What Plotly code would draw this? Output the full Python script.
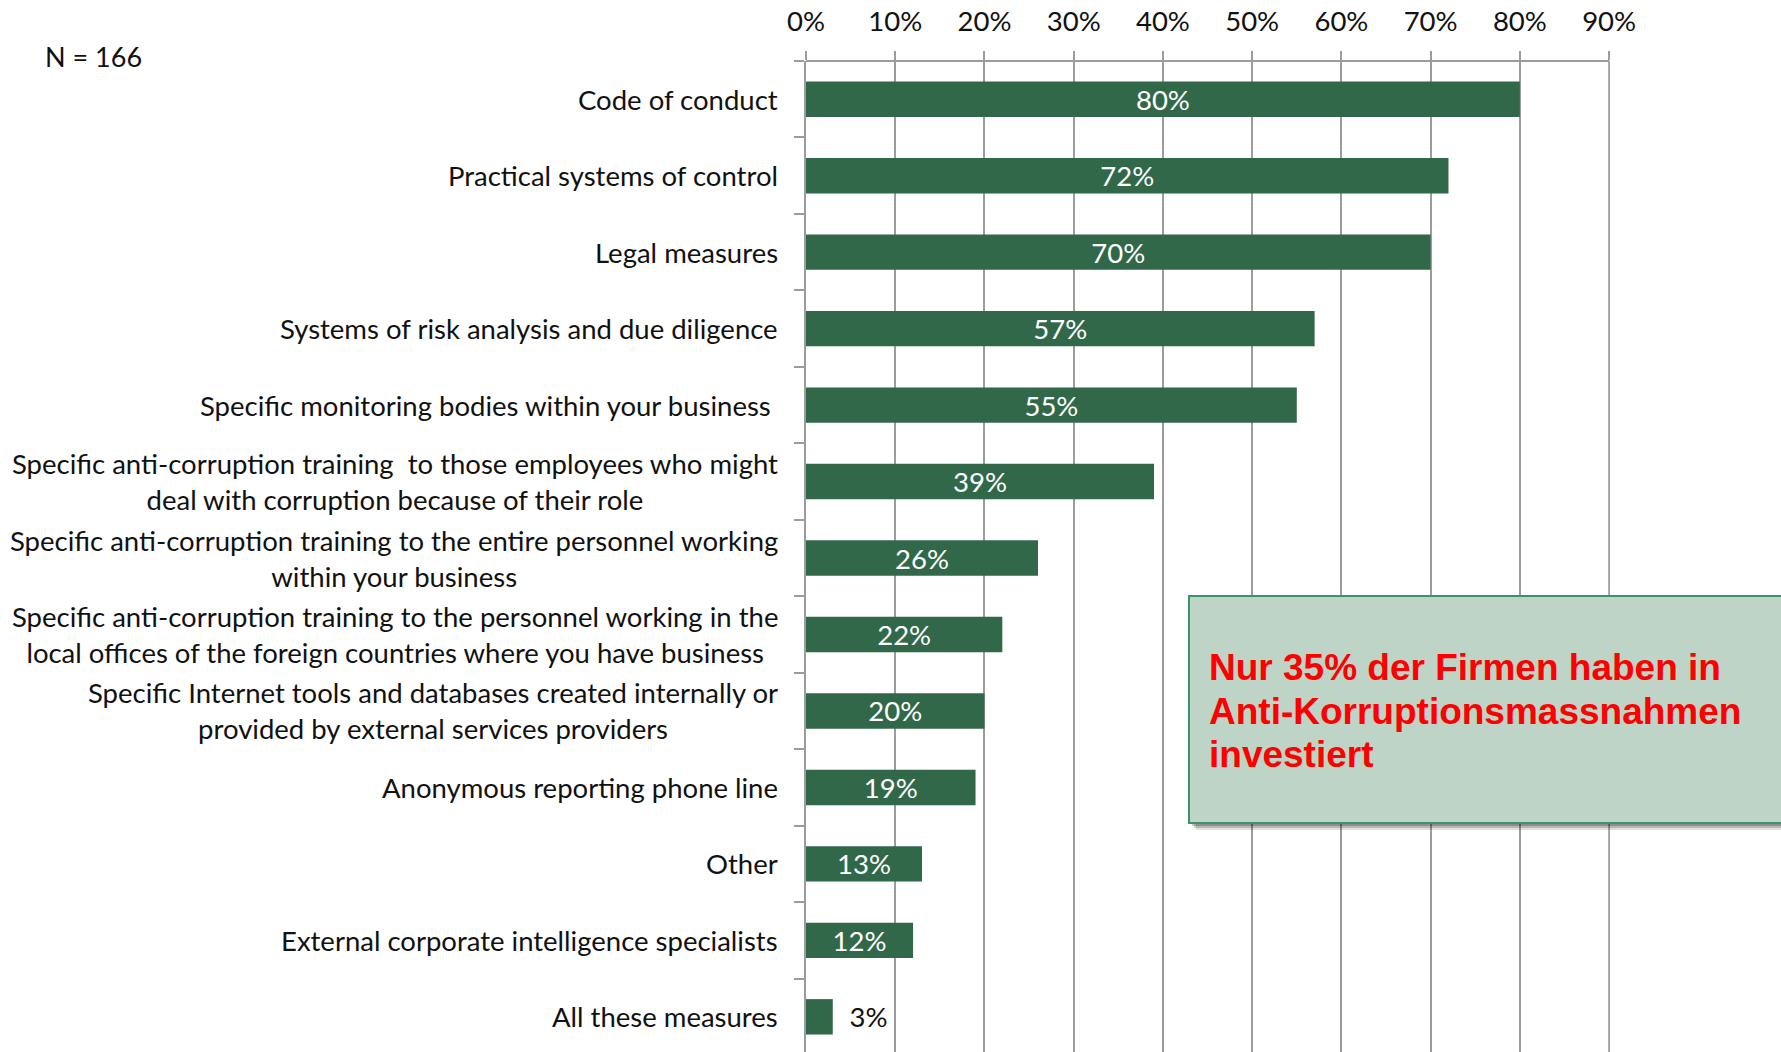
import plotly.graph_objects as go

# Survey: anti-corruption measures adopted by companies (N = 166)
categories = [
    "Code of conduct",
    "Practical systems of control",
    "Legal measures",
    "Systems of risk analysis and due diligence",
    "Specific monitoring bodies within your business\u00a0",
    "Specific anti-corruption training\u00a0 to those employees who might<br>deal with corruption because of their role",
    "Specific anti-corruption training to the entire personnel working<br>within your business",
    "Specific anti-corruption training to the personnel working in the<br>local offices of the foreign countries where you have business",
    "Specific Internet tools and databases created internally or<br>provided by external services providers",
    "Anonymous reporting phone line",
    "Other",
    "External corporate intelligence specialists",
    "All these measures",
]
shares = [80, 72, 70, 57, 55, 39, 26, 22, 20, 19, 13, 12, 3]
x_ticks = [0, 10, 20, 30, 40, 50, 60, 70, 80, 90]
x_tick_text = [f"{t}%" for t in x_ticks]
sample_note = "N = 166"
callout_lines = [
    "Nur 35% der Firmen haben in",
    "Anti-Korruptionsmassnahmen",
    "investiert",
]

W, H = 1781, 1052
X_MAX = 90.1
L, T, B = 806, 61, 0
PX_PER_UNIT = 803 / 90
R = W - L - round(PX_PER_UNIT * X_MAX)
PW, PH = W - L - R, H - T - B

def px_x(p):
    return (p - L) / PW

def px_y(p):
    return (H - B - p) / PH

FONT = "Lato"
FS = 27.5
BAR = "#31684A"
GRID = "#9c9c9c"
GW = 1.8

# Narrow bars get their label outside, after a small gap
positions = ["inside" if v >= 5 else "outside" for v in shares]
labels = [f"{v}%" if p == "inside" else f"\u2002{v}%" for v, p in zip(shares, positions)]

fig = go.Figure(
    go.Bar(
        orientation="h",
        y=list(range(len(categories))),
        x=shares,
        text=labels,
        textposition=positions,
        insidetextanchor="middle",
        insidetextfont=dict(family=FONT, size=FS, color="white"),
        outsidetextfont=dict(family=FONT, size=FS, color="#111"),
        constraintext="none",
        cliponaxis=False,
        marker=dict(color=BAR, line=dict(width=0)),
        hoverinfo="skip",
    )
)

n = len(categories)
fig.update_layout(
    width=W,
    height=H,
    margin=dict(l=L, r=R, t=T, b=B, autoexpand=False),
    paper_bgcolor="white",
    plot_bgcolor="white",
    showlegend=False,
    bargap=0.537,
    font=dict(family=FONT, size=FS, color="#111"),
    xaxis=dict(
        side="top",
        range=[0, X_MAX],
        tickvals=x_ticks,
        ticktext=x_tick_text,
        showgrid=True,
        gridcolor=GRID,
        gridwidth=GW,
        showline=False,
        ticks="outside",
        ticklen=9,
        tickcolor=GRID,
        tickwidth=GW,
        ticklabelstandoff=9,
        tickfont=dict(family=FONT, size=FS, color="#111"),
        zeroline=False,
        fixedrange=True,
    ),
    yaxis=dict(
        type="linear",
        range=[n - 1 + 0.46, -0.5],
        tickvals=[i - 0.5 for i in range(n + 1)],
        showticklabels=False,
        showgrid=False,
        zeroline=False,
        showline=True,
        linecolor=GRID,
        linewidth=GW,
        ticks="outside",
        ticklen=10,
        tickcolor=GRID,
        tickwidth=GW,
        fixedrange=True,
    ),
)

# Top axis line from 0% to 90% and the closing 90% gridline
fig.add_shape(
    type="line", xref="x", yref="paper", layer="above",
    x0=0, x1=90, y0=1, y1=1,
    line=dict(color=GRID, width=GW),
)
fig.add_shape(
    type="line", xref="x", yref="paper", layer="below",
    x0=90, x1=90, y0=0, y1=1,
    line=dict(color=GRID, width=GW),
)

# Category labels, right-aligned against the axis with centred line wrapping
for i, label in enumerate(categories):
    fig.add_annotation(
        x=0, xref="paper", y=i, yref="y",
        xanchor="right", yanchor="middle", xshift=-26,
        text=label, align="center", showarrow=False,
        font=dict(family=FONT, size=FS, color="#111"),
    )

fig.add_annotation(
    x=px_x(43), xref="paper", y=px_y(56), yref="paper",
    xanchor="left", yanchor="middle",
    text=sample_note, showarrow=False,
    font=dict(family=FONT, size=27, color="#111"),
)

# Callout box with soft shadow
bx0, bx1, by0, by1 = 1189, 1800, 596, 823
for off, alpha in [(7, 0.12), (5, 0.18), (3, 0.22)]:
    fig.add_shape(
        type="rect", xref="paper", yref="paper", layer="above",
        x0=px_x(bx0 + off), x1=px_x(bx1 + off),
        y0=px_y(by0 + off), y1=px_y(by1 + off),
        fillcolor=f"rgba(0,0,0,{alpha})", line=dict(width=0),
    )
fig.add_shape(
    type="rect", xref="paper", yref="paper", layer="above",
    x0=px_x(bx0), x1=px_x(bx1), y0=px_y(by0), y1=px_y(by1),
    fillcolor="#BED4C6", line=dict(color="#3A9467", width=2),
)
for k, line in enumerate(callout_lines):
    fig.add_annotation(
        x=px_x(1207), xref="paper", y=px_y(667 + 44 * k), yref="paper",
        xanchor="left", yanchor="middle", align="left",
        text=f"<b>{line}</b>", showarrow=False,
        font=dict(family="Liberation Sans", size=37, color="#FF0000"),
    )

fig.write_html("out.html")
